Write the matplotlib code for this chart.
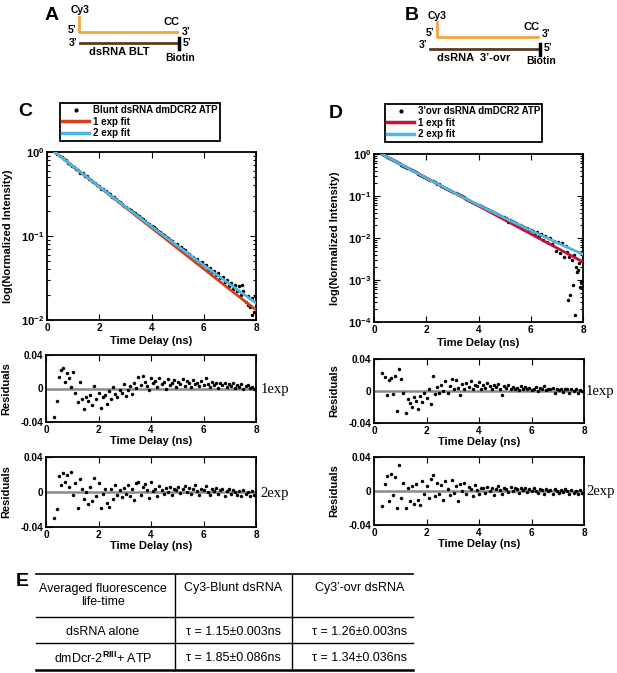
import numpy as np
import matplotlib
matplotlib.use('Agg')
import matplotlib.pyplot as plt
from matplotlib.ticker import FixedLocator, FuncFormatter, LogLocator, NullFormatter

plt.rcParams['font.family'] = ['Liberation Sans', 'DejaVu Sans']
plt.rcParams['font.weight'] = 'bold'
plt.rcParams['axes.labelweight'] = 'bold'
plt.rcParams['mathtext.fontset'] = 'custom'
plt.rcParams['mathtext.rm'] = 'Liberation Sans'
plt.rcParams['mathtext.bf'] = 'Liberation Sans:bold'
plt.rcParams['mathtext.it'] = 'Liberation Sans:italic'

# ---------------- data ----------------
time_ns = [0.32, 0.40, 0.48, 0.56, 0.64, 0.72, 0.80, 0.88,
           0.96, 1.04, 1.12, 1.20, 1.28, 1.36, 1.44, 1.52,
           1.60, 1.68, 1.76, 1.84, 1.92, 2.00, 2.08, 2.16,
           2.24, 2.32, 2.40, 2.48, 2.56, 2.64, 2.72, 2.80,
           2.88, 2.96, 3.04, 3.12, 3.20, 3.28, 3.36, 3.44,
           3.52, 3.60, 3.68, 3.76, 3.84, 3.92, 4.00, 4.08,
           4.16, 4.24, 4.32, 4.40, 4.48, 4.56, 4.64, 4.72,
           4.80, 4.88, 4.96, 5.04, 5.12, 5.20, 5.28, 5.36,
           5.44, 5.52, 5.60, 5.68, 5.76, 5.84, 5.92, 6.00,
           6.08, 6.16, 6.24, 6.32, 6.40, 6.48, 6.56, 6.64,
           6.72, 6.80, 6.88, 6.96, 7.04, 7.12, 7.20, 7.28,
           7.36, 7.44, 7.52, 7.60, 7.68, 7.76, 7.84, 7.92]

# log10(normalized intensity), panel C (blunt)
c_decay_log = [-0.005, -0.02, -0.045, -0.06, -0.085, -0.10, -0.125, -0.14,
               -0.165, -0.175, -0.205, -0.215, -0.245, -0.255, -0.28, -0.29,
               -0.32, -0.33, -0.36, -0.37, -0.395, -0.405, -0.435, -0.445,
               -0.465, -0.49, -0.50, -0.53, -0.54, -0.56, -0.585, -0.60,
               -0.615, -0.645, -0.655, -0.68, -0.69, -0.72, -0.73, -0.755,
               -0.765, -0.785, -0.80, -0.82, -0.84, -0.855, -0.875, -0.895,
               -0.915, -0.94, -0.95, -0.98, -0.985, -1.01, -1.025, -1.05,
               -1.06, -1.09, -1.10, -1.13, -1.135, -1.16, -1.17, -1.20,
               -1.21, -1.245, -1.25, -1.28, -1.27, -1.32, -1.31, -1.35,
               -1.35, -1.40, -1.38, -1.43, -1.42, -1.47, -1.44, -1.50,
               -1.49, -1.55, -1.52, -1.60, -1.56, -1.63, -1.58, -1.66,
               -1.60, -1.70, -1.66, -1.78, -1.72, -1.85, -1.74, -1.90]
c_tail_t = [7.45, 7.70, 7.85, 7.95]
c_tail_log = [-1.58, -1.82, -1.94, -1.72]

# log10(normalized intensity), panel D (3'ovr)
d_decay_log = [-0.005, -0.035, -0.06, -0.09, -0.12, -0.14, -0.175, -0.195,
               -0.225, -0.255, -0.275, -0.31, -0.33, -0.36, -0.385, -0.41,
               -0.44, -0.465, -0.49, -0.525, -0.545, -0.57, -0.60, -0.62,
               -0.65, -0.675, -0.705, -0.725, -0.755, -0.78, -0.81, -0.83,
               -0.855, -0.885, -0.905, -0.94, -0.955, -0.985, -1.01, -1.03,
               -1.06, -1.085, -1.11, -1.14, -1.16, -1.185, -1.215, -1.235,
               -1.26, -1.285, -1.31, -1.335, -1.365, -1.38, -1.41, -1.43,
               -1.455, -1.48, -1.51, -1.53, -1.62, -1.575, -1.60, -1.625,
               -1.64, -1.68, -1.695, -1.72, -1.745, -1.76, -1.80, -1.81,
               -1.83, -1.90, -1.86, -1.95, -1.90, -2.05, -1.96, -2.10,
               -2.00, -2.15, -2.06, -2.30, -2.10, -2.35, -2.12, -2.45,
               -2.20, -3.48, -3.36, -3.12, -3.83, -2.80, -2.60, -3.04]
d_tail_t = [7.40, 7.48, 7.56, 7.64, 7.72, 7.80, 7.88, 7.96]
d_tail_log = [-2.33, -2.45, -2.52, -2.40, -2.68, -2.76, -3.17, -2.55]

# fitted curves (normalized intensity)
fit_t = [0.3, 1.0, 2.0, 3.0, 4.0, 5.0, 6.0, 7.0, 8.0]
c_fit1 = [1.0, 0.6746, 0.3845, 0.2192, 0.1249, 0.0712, 0.0406, 0.0231, 0.0132]
c_fit2 = [1.0, 0.675, 0.387, 0.2236, 0.130, 0.0761, 0.0449, 0.0266, 0.0159]
d_fit1 = [1.0, 0.5839, 0.2708, 0.1256, 0.0582, 0.0270, 0.01252, 0.00580, 0.00269]
d_fit2 = [1.0, 0.576, 0.267, 0.1263, 0.0610, 0.0301, 0.01512, 0.00777, 0.00408]

# residuals (x 1e-3)
res_c1_milli = [-34, -15, 14, 22, 25, 8, 18, 12,
                2, 20, -5, -16, 8, -12, -24, -10,
                -15, -8, -20, 3, -12, -5, -23, -10,
                -8, -18, -3, -12, 2, -6, -10, -2,
                -5, 5, -9, -2, 3, -6, 6, 1,
                14, 4, 15, 8, 3, -2, 12, 6,
                9, 2, 13, 5, 8, 0, 11, 4,
                7, 10, 2, 8, 5, 11, 3, 9,
                6, 2, 10, 5, 7, 3, 9, 4,
                13, 5, 2, 8, 4, 6, 1, 7,
                4, 7, 2, 5, 3, 6, 1, 4,
                2, 5, 0, 3, 4, 1, 2, 0]
res_c2_milli = [-30, -19, 18, 8, 22, 12, 20, 6,
                23, -3, 10, -18, 15, 4, -8, 0,
                -14, 6, -10, 16, -5, 10, -18, -2,
                4, -12, -17, 3, -8, 8, -3, 2,
                -6, 5, -2, 8, -5, 4, -9, 10,
                12, -3, 6, 9, 2, -7, 11, 1,
                4, -4, 7, 2, -2, 5, 0, 6,
                -3, 4, 2, 6, -1, 3, 7, 0,
                5, -2, 3, 8, 1, -3, 4, 2,
                7, 0, -3, 3, 1, 5, -2, 2,
                3, -4, 1, 4, -2, 2, 0, -3,
                1, -4, 2, -2, 0, -5, 1, -3]
res_d1_milli = [22, 18, -5, 14, 16, -4, 19, -25,
                28, 15, -2, -27, -10, -15, -20, -8,
                -12, -22, -6, -14, -3, -9, 2, -16,
                19, -4, 5, -2, 8, 0, 12, -3,
                6, 15, 2, 14, 4, -5, 9, 3,
                10, 5, 12, 3, 8, 6, 11, 2,
                7, 4, 10, 6, 2, 8, 5, 9,
                3, -5, 6, 4, 8, 2, 5, 3,
                4, 1, 6, 3, 5, 2, 4, 1,
                3, 5, 0, 4, 2, 6, 1, 3,
                2, 4, -2, 3, 1, 3, -1, 2,
                2, -3, 3, 0, 2, -2, 1, 0]
res_d2_milli = [-18, 8, 18, -12, 20, -5, 16, -20,
                31, -8, 10, -20, 4, -12, 6, -15,
                8, -10, -16, 12, -4, 6, -8, 14,
                19, -6, 9, -3, 7, -10, 12, 2,
                -5, 13, -2, 6, -12, 8, 0, 10,
                -4, 5, 2, -6, 7, 1, -3, 4,
                3, -2, 5, 0, 4, -5, 2, 6,
                1, -3, 4, 2, -1, 5, 0, 3,
                2, -2, 3, 1, 4, -1, 2, 0,
                3, 0, -2, 2, 1, -3, 2, 0,
                1, -3, 2, 0, -2, 1, -1, 2,
                0, -3, 1, -2, 0, -4, 1, -2]

x_ticks = [0, 2, 4, 6, 8]
res_ticks = [-0.04, 0, 0.04]
res_ticklabels = ['-0.04', '0', '0.04']

legend_c = ['Blunt dsRNA dmDCR2 ATP', '1 exp fit', '2 exp fit']
legend_d = ["3'ovr dsRNA dmDCR2 ATP", '1 exp fit', '2 exp fit']

table_rows = ['Averaged fluorescence\nlife-time', 'dsRNA alone',
              'dmDcr-2$^{\\mathrm{RIII}}$+ ATP']
table_cols = ['Cy3-Blunt dsRNA', 'Cy3\u2019-ovr dsRNA']
tau_blunt = ['1.15\u00b10.003ns', '1.85\u00b10.086ns']
tau_ovr = ['1.26\u00b10.003ns', '1.34\u00b10.036ns']

# ---------------- figure ----------------
W, H = 617, 673
fig = plt.figure(figsize=(W / 100, H / 100), dpi=100)

ov = fig.add_axes([0, 0, 1, 1], zorder=0)
ov.set_xlim(0, W)
ov.set_ylim(H, 0)
ov.axis('off')


def fax(x0, y0, x1, y1):
    return fig.add_axes([x0 / W, 1 - y1 / H, (x1 - x0) / W, (y1 - y0) / H], zorder=2)


def style(ax):
    ax.tick_params(direction='in', top=True, right=True, which='both',
                   width=0.8, labelsize=7.2, pad=2)
    ax.tick_params(which='major', length=4)
    ax.tick_params(which='minor', length=2)
    for s in ax.spines.values():
        s.set_linewidth(1.3)


RED_C = '#d2401c'
RED_D = '#c4122f'
BLUE = '#4db6e4'
GRAY = '#8a8a8a'

logfmt = FuncFormatter(lambda v, p: r'$\mathbf{10^{%d}}$' % int(round(np.log10(v))))


def decay_panel(box, dlog, tail_t, tail_log, f1, f2, red, ylo, labels, legbox):
    ax = fax(*box)
    style(ax)
    ax.tick_params(axis='y', which='major', labelsize=8)
    t = np.array(time_ns)
    h0, = ax.plot(np.concatenate([t, tail_t]), 10 ** np.concatenate([dlog, tail_log]),
                  'o', color='black', ms=2.5, mew=0, zorder=2)
    h1, = ax.plot(fit_t, f1, color=red, lw=2.0, zorder=3)
    h2, = ax.plot(fit_t, f2, color=BLUE, lw=2.0, zorder=4)
    ax.set_yscale('log')
    ax.set_xlim(0, 8)
    ax.set_ylim(ylo, 1)
    ax.xaxis.set_major_locator(FixedLocator(x_ticks))
    ax.yaxis.set_major_locator(LogLocator(base=10, numticks=10))
    ax.yaxis.set_minor_locator(LogLocator(base=10, subs=np.arange(2, 10), numticks=10))
    ax.yaxis.set_major_formatter(logfmt)
    ax.yaxis.set_minor_formatter(NullFormatter())
    ax.set_xlabel('Time Delay (ns)', fontsize=8, labelpad=2)
    ax.set_ylabel('log(Normalized Intensity)', fontsize=8)
    ax.yaxis.set_label_coords(-0.165, 0.5)
    lh0 = plt.Line2D([], [], marker='.', ls='none', color='black', ms=4)
    leg = ax.legend([lh0, h1, h2], labels, loc='upper left',
                    bbox_to_anchor=(legbox[0] / W, 1 - legbox[1] / H),
                    bbox_transform=fig.transFigure, borderaxespad=0,
                    prop={'size': 7, 'weight': 'bold'}, handlelength=2.7,
                    handletextpad=0.4, labelspacing=0.15, borderpad=0.25,
                    fancybox=False, framealpha=1, edgecolor='black', numpoints=1)
    leg.get_frame().set_linewidth(1.3)
    for ln in leg.get_lines()[1:]:
        ln.set_linewidth(2.5)
    return ax


def res_panel(box, res_milli, tag, tagx):
    ax = fax(*box)
    style(ax)
    t = np.array(time_ns)
    ax.axhline(0, color=GRAY, lw=1.8, zorder=2)
    ax.plot(t, np.array(res_milli) / 1000.0, 'o', color='black', ms=2.5, mew=0, zorder=3)
    ax.set_xlim(0, 8)
    ax.set_ylim(-0.04, 0.04)
    ax.xaxis.set_major_locator(FixedLocator(x_ticks))
    ax.set_yticks(res_ticks)
    ax.set_yticklabels(res_ticklabels)
    ax.set_xlabel('Time Delay (ns)', fontsize=8, labelpad=1)
    ax.set_ylabel('Residuals', fontsize=8)
    ax.yaxis.set_label_coords(-0.165, 0.5)
    y0, y1 = box[1], box[3]
    ov.text(tagx, (y0 + y1) / 2 + 1, tag, family='Liberation Serif', fontweight='normal',
            fontsize=10.5, ha='left', va='center')
    return ax


decay_panel((47, 152, 256, 320), c_decay_log, c_tail_t, c_tail_log, c_fit1, c_fit2,
            RED_C, 0.01, legend_c, (60, 103))
decay_panel((374, 154, 583, 322), d_decay_log, d_tail_t, d_tail_log, d_fit1, d_fit2,
            RED_D, 1e-4, legend_d, (385, 104))
res_panel((46, 355, 256, 422), res_c1_milli, '1exp', 261)
res_panel((46, 457, 256, 527), res_c2_milli, '2exp', 260)
res_panel((374, 359, 584, 423), res_d1_milli, '1exp', 586)
res_panel((374, 457, 584, 525), res_d2_milli, '2exp', 586)

# ---------------- panel letters ----------------
for lab, x, y in [('A', 52, 15), ('B', 412, 15), ('C', 25, 112), ('D', 336, 114), ('E', 22, 581)]:
    ov.text(x, y, lab, fontsize=14, fontweight='bold', ha='center', va='center')

# ---------------- schematics A & B ----------------
ORANGE = '#f4a343'
BROWN = '#5a3a1e'
fs_s = 7.5
# A
ov.plot([79, 79, 177], [17, 32, 32], color=ORANGE, lw=2)
ov.plot([80, 178], [43, 43], color=BROWN, lw=2)
ov.plot([179, 179], [38, 48.5], color='black', lw=2.5)
ov.text(80, 10, 'Cy3', fontsize=fs_s, ha='center', va='center')
ov.text(72, 30, '5\u2019', fontsize=fs_s, ha='center', va='center')
ov.text(171, 22, 'CC', fontsize=fs_s + 0.5, ha='center', va='center')
ov.text(186, 32, '3\u2019', fontsize=fs_s, ha='center', va='center')
ov.text(73, 43, '3\u2019', fontsize=fs_s, ha='center', va='center')
ov.text(187, 43, '5\u2019', fontsize=fs_s, ha='center', va='center')
ov.text(119, 52, 'dsRNA BLT', fontsize=8, ha='center', va='center')
ov.text(180, 58, 'Biotin', fontsize=fs_s, ha='center', va='center')
# B
ov.plot([437, 437, 538], [22, 37, 37], color=ORANGE, lw=2)
ov.plot([430, 539], [49, 49], color=BROWN, lw=2)
ov.plot([540, 540], [44, 54.5], color='black', lw=2.5)
ov.text(437, 16, 'Cy3', fontsize=fs_s, ha='center', va='center')
ov.text(430, 33, '5\u2019', fontsize=fs_s, ha='center', va='center')
ov.text(532, 27, 'CC', fontsize=fs_s + 0.5, ha='center', va='center')
ov.text(546, 34, '3\u2019', fontsize=fs_s, ha='center', va='center')
ov.text(423, 45, '3\u2019', fontsize=fs_s, ha='center', va='center')
ov.text(548, 48, '5\u2019', fontsize=fs_s, ha='center', va='center')
ov.text(474, 58, 'dsRNA  3\u2019-ovr', fontsize=8, ha='center', va='center')
ov.text(541, 61, 'Biotin', fontsize=fs_s, ha='center', va='center')

# ---------------- table E ----------------
tx0, tx1 = 36, 413
ov.plot([tx0, tx1], [574, 574], color='black', lw=1.2)
ov.plot([tx0, tx1], [617, 617], color='black', lw=1.0)
ov.plot([tx0, tx1], [643, 643], color='black', lw=1.0)
ov.plot([tx0, tx1], [670, 670], color='black', lw=1.8)
ov.plot([175, 175], [574, 670], color='black', lw=1.0)
ov.plot([292, 292], [574, 670], color='black', lw=1.0)
fs_t = 9
col_x = [103, 233, 360]
row_y = [595.5, 632, 658]
for ry, lab in zip(row_y, table_rows):
    ov.text(col_x[0], ry, lab, fontsize=fs_t, fontweight='normal', ha='center',
            va='center', multialignment='center', linespacing=1.2)
ov.text(col_x[1], 588, table_cols[0], fontsize=fs_t, fontweight='normal', ha='center', va='center')
ov.text(col_x[2], 588, table_cols[1], fontsize=fs_t, fontweight='normal', ha='center', va='center')
for ry, vb, vo in zip(row_y[1:], tau_blunt, tau_ovr):
    ov.text(col_x[1], ry, '\u03c4 = ' + vb, fontsize=fs_t, fontweight='normal', ha='center', va='center')
    ov.text(col_x[2], ry, '\u03c4 = ' + vo, fontsize=fs_t, fontweight='normal', ha='center', va='center')

fig.savefig('out.png', dpi=100, facecolor='white')
